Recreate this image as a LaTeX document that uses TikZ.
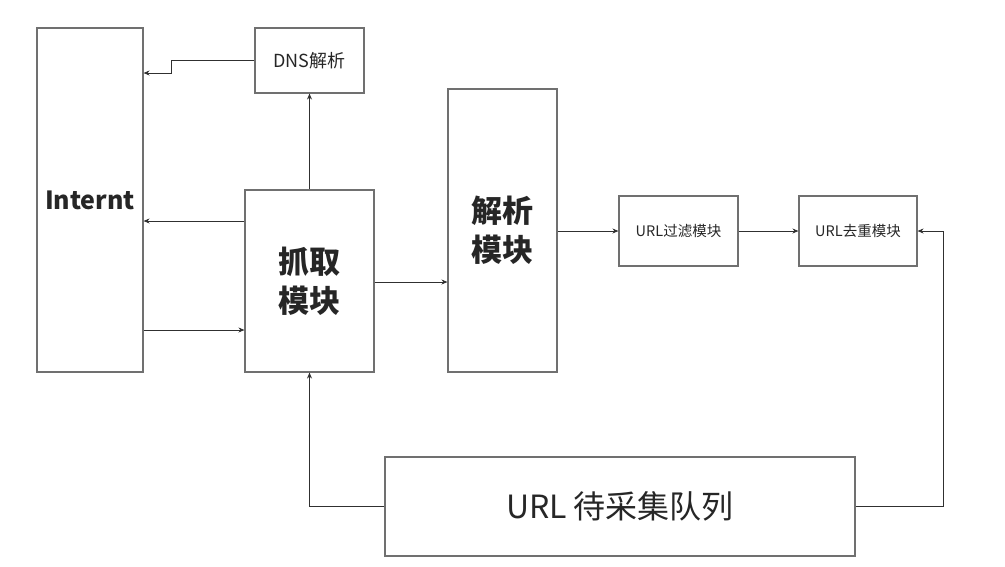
\documentclass[tikz,border=0pt]{standalone}
\usepackage{fontspec}
\setmainfont{Noto Sans CJK SC}
\usepackage{xcolor}
\usetikzlibrary{arrows.meta, calc, positioning}
\definecolor{boxline}{HTML}{707070}
\definecolor{wire}{HTML}{303030}

\begin{document}
\begin{tikzpicture}[
    x=1pt, y=-1pt,
    >={Stealth[length=6pt, width=5pt]},
    blk/.style ={draw=boxline, line width=1.1pt, align=center, inner sep=0pt,
                 text=black!85},
    bigtxt/.style ={font=\fontsize{31}{39}\selectfont\bfseries},
    smalltxt/.style ={font=\fontsize{14.5}{17}\selectfont},
    flow/.style={->, draw=wire, line width=0.9pt},
]
\useasboundingbox (0,0) rectangle (1005,566);
\node[blk, minimum width=106pt, minimum height=344pt,
      font=\fontsize{25}{30}\selectfont\bfseries] (net) at (90,200) {Internt};
\node[blk, minimum width=109pt, minimum height=65pt,
      font=\fontsize{18}{21}\selectfont] (dns) at (309.5,60.5) {DNS解析};
\node[blk, bigtxt, minimum width=129pt, minimum height=182pt] (fetch) at (309.5,281) {抓取\\模块};
\node[blk, bigtxt, minimum width=109pt, minimum height=283pt] (parse) at (502.5,230.5) {解析\\模块};
\node[blk, smalltxt, minimum width=119pt, minimum height=70pt] (filt) at (678.5,231) {URL过滤模块};
\node[blk, smalltxt, minimum width=118pt, minimum height=70pt] (dedup) at (858,231) {URL去重模块};
\node[blk, minimum width=470pt, minimum height=99pt,
      font=\fontsize{32}{37}\selectfont] (queue) at (620,506.5) {URL 待采集队列};
% DNS lookup goes back to the net
\draw[flow] (dns.west) -- (171,60.5) |- (net.east |- 0,73);
\draw[flow] (fetch.north) -- (dns.south);
\draw[flow] (fetch.west |- 0,221) -- (net.east |- 0,221);
\draw[flow] (net.east |- 0,330) -- (fetch.west |- 0,330);
\draw[flow] (fetch.east |- 0,282) -- (parse.west |- 0,282);
\draw[flow] (parse.east |- filt.west) -- (filt.west);
\draw[flow] (filt.east) -- (dedup.west);
% queue feeds both ends
\draw[flow] (queue.east) -- (943,506.5) |- (dedup.east);
\draw[flow] (queue.west) -| (fetch.south);
\end{tikzpicture}
\end{document}
